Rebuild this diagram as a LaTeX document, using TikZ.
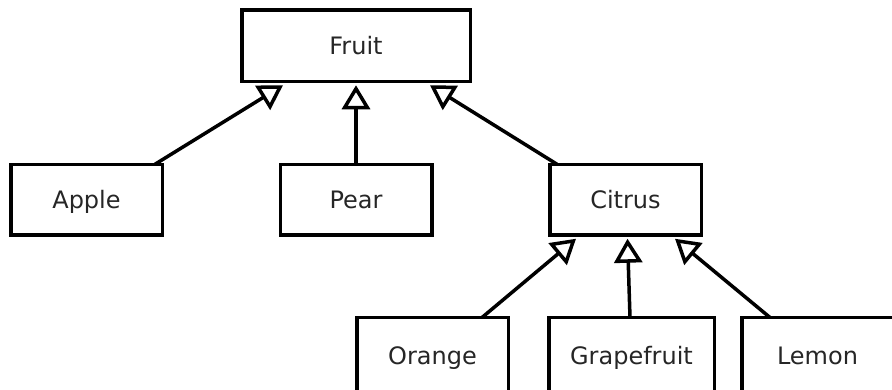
\documentclass[tikz,border=0pt]{standalone}
\usepackage{fontspec}
\setmainfont{DejaVu Sans}
\usetikzlibrary{arrows.meta}
\pgfdeclarelayer{background}
\pgfsetlayers{background,main}
\tikzset{
  cls/.style={draw=black, line width=3.5pt, fill=white, outer sep=0pt, inner sep=0pt,
    minimum width=151.5pt, minimum height=70.5pt, text height=17.5pt, text depth=0pt,
    font=\fontsize{24pt}{28pt}\selectfont, text=black!85},
  inh/.style={draw=black, line width=3.5pt,
    -{Triangle[open, length=24pt, width=28pt, line width=3.5pt]}}
}
\begin{document}
\begin{tikzpicture}[x=1pt,y=1pt]
\useasboundingbox (0,0) rectangle (892,-389);
\clip (0,0) rectangle (892,-389);
\node[cls, minimum width=228.5pt, minimum height=71.5pt] (fruit) at (356,-45.5) {Fruit};
\node[cls] (apple) at (86.5,-199.5) {Apple};
\node[cls] (pear) at (356,-199.5) {Pear};
\node[cls] (citrus) at (625.5,-199.5) {Citrus};
\node[cls, minimum height=77pt] (orange) at (432.5,-356) {Orange};
\node[cls, minimum width=165.5pt, minimum height=77pt] (grapefruit) at (631.5,-356) {Grapefruit};
\node[cls, minimum height=77pt] (lemon) at (817.5,-356) {Lemon};
\begin{pgfonlayer}{background}
\draw[inh] ([xshift=68.5pt]apple.north) -- ([shift={(-73pt,-4pt)}]fruit.south);
\draw[inh] (pear.north) -- ([yshift=-4pt]fruit.south);
\draw[inh] ([xshift=-68.5pt]citrus.north) -- ([shift={(74pt,-4pt)}]fruit.south);
\draw[inh] ([xshift=49.5pt]orange.north) -- ([shift={(-49.5pt,-4pt)}]citrus.south);
\draw[inh] ([xshift=-1.5pt]grapefruit.north) -- ([shift={(2pt,-4pt)}]citrus.south);
\draw[inh] ([xshift=-47.5pt]lemon.north) -- ([shift={(49.5pt,-4pt)}]citrus.south);
\end{pgfonlayer}
\end{tikzpicture}
\end{document}
